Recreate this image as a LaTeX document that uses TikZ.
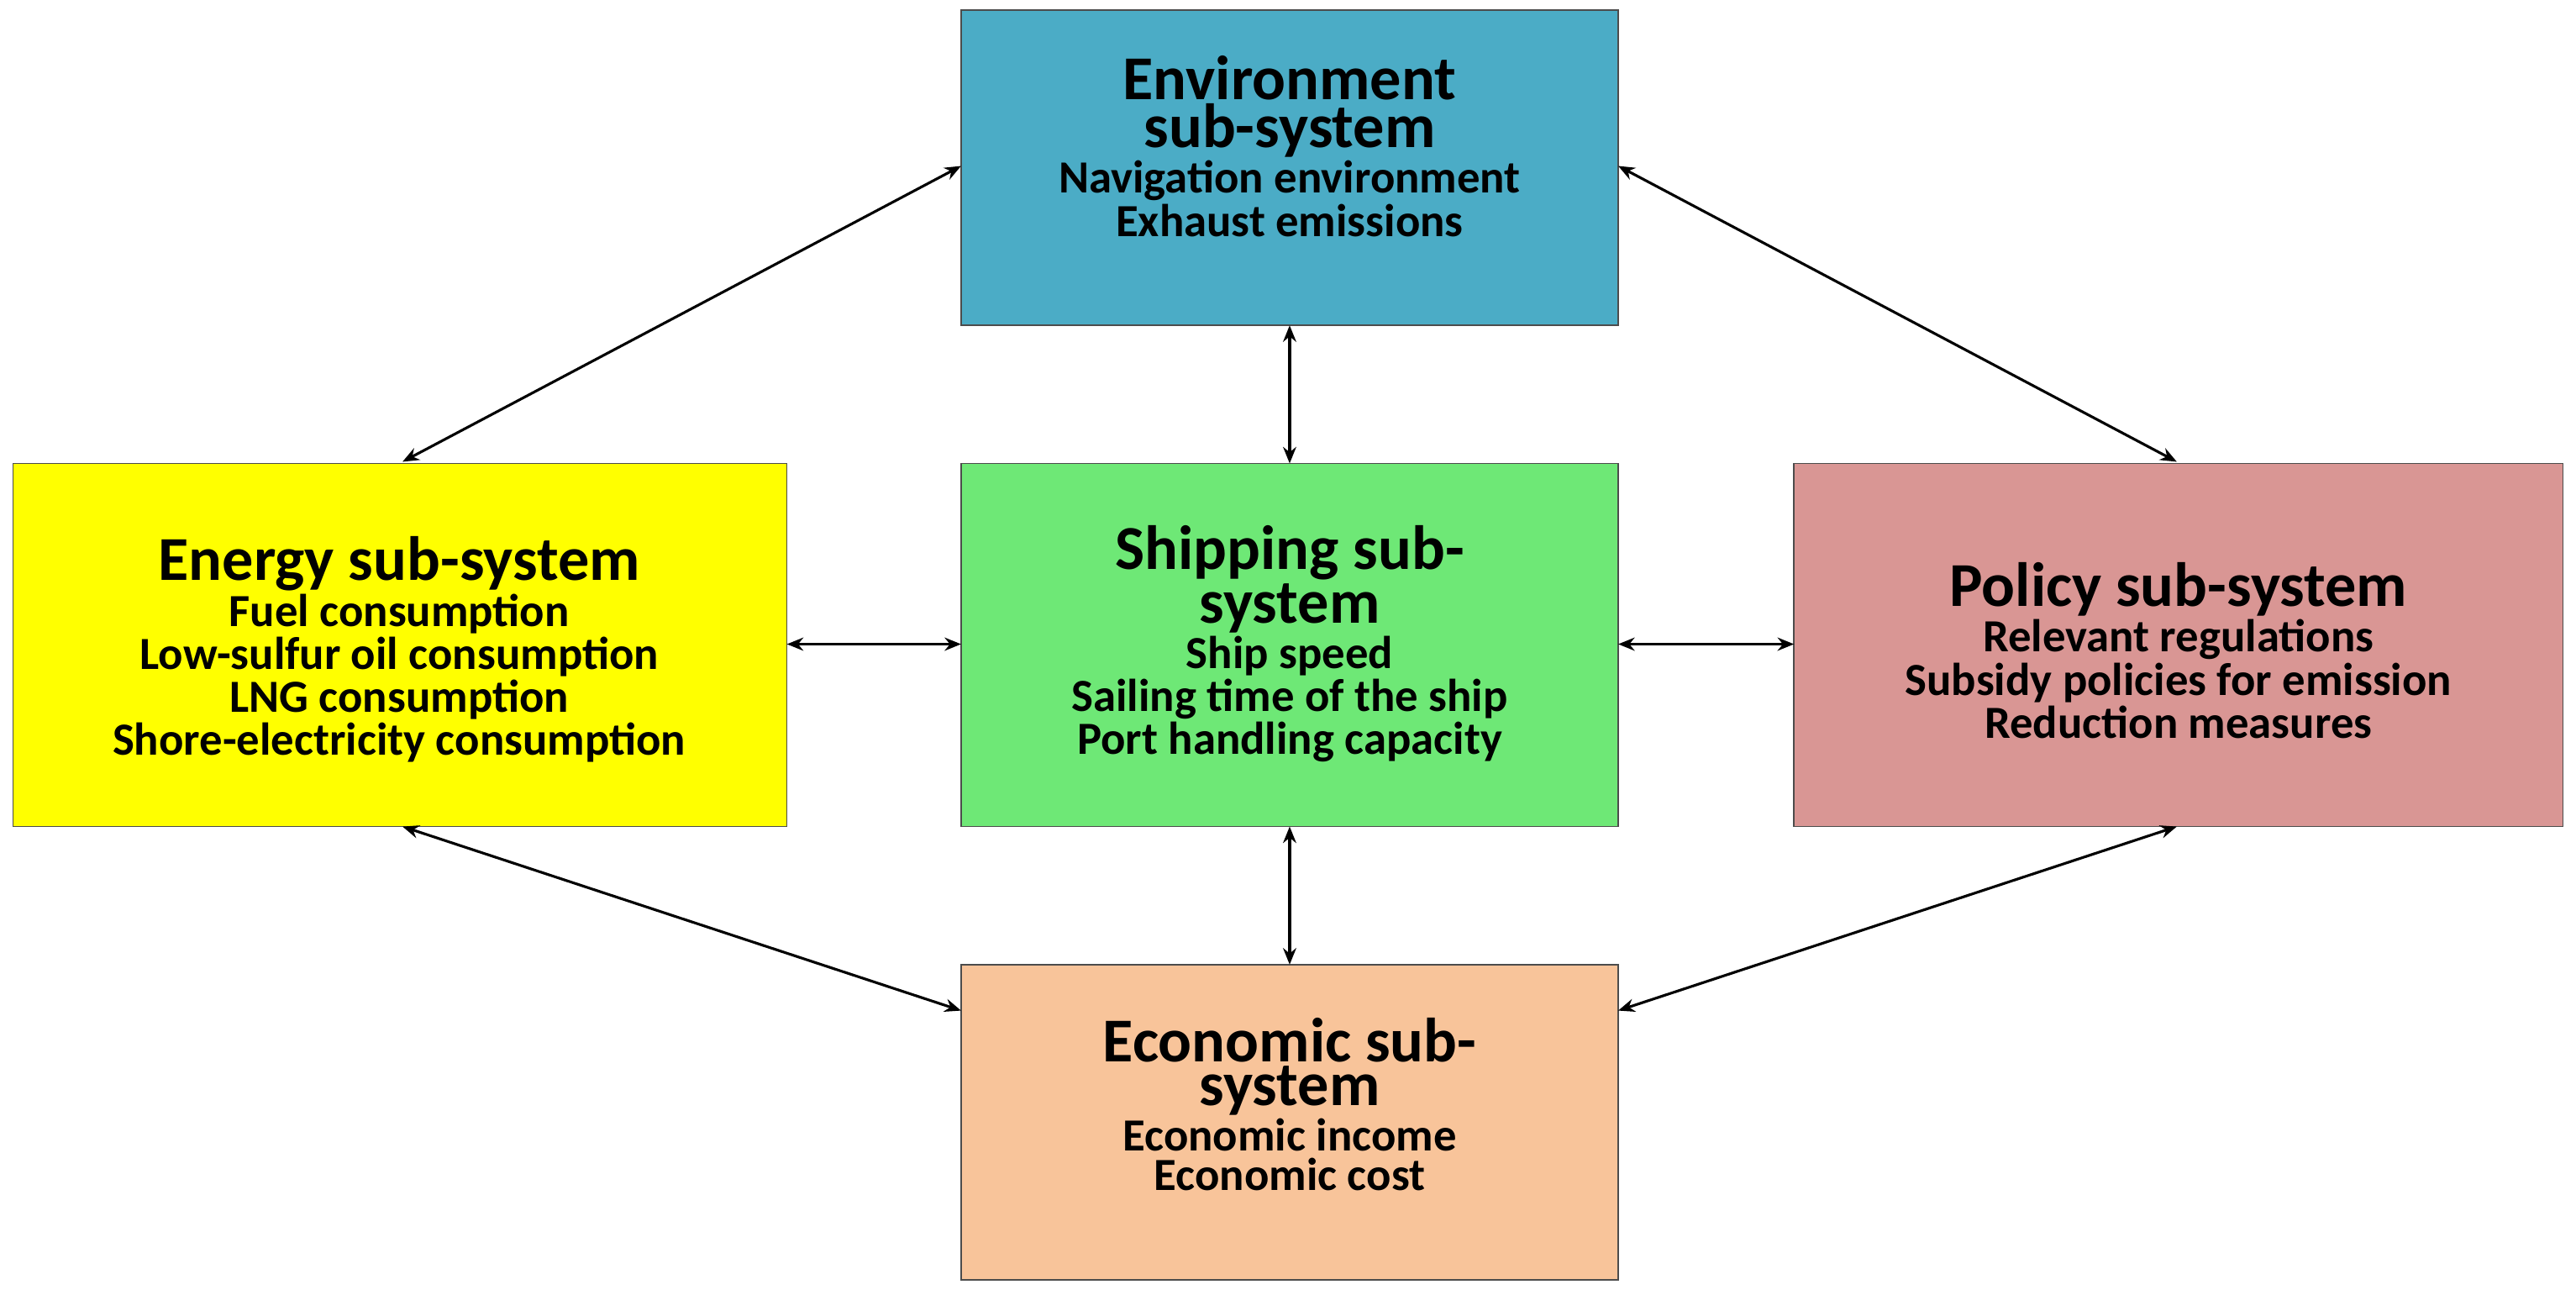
\documentclass[tikz,border=0pt]{standalone}
\usepackage{fontspec}
\setmainfont{Carlito}
\usetikzlibrary{arrows.meta}
\definecolor{envc}{HTML}{4BACC6}
\definecolor{enec}{HTML}{FFFF00}
\definecolor{shic}{HTML}{6EE876}
\definecolor{polc}{HTML}{D99694}
\definecolor{ecoc}{HTML}{F8C49A}
\newcommand{\myttl}{\bfseries\fontsize{19}{21.5}\selectfont}
\newcommand{\mybd}{\bfseries\fontsize{14}{17.5}\selectfont}
\tikzset{
  txt/.style={align=center,inner sep=0pt},
  link/.style={{Stealth[length=5pt,width=4pt]}-{Stealth[length=5pt,width=4pt]},line width=0.8pt}
}
\begin{document}
\begin{tikzpicture}[x=0.5pt,y=-0.5pt]
\useasboundingbox (0,0) rectangle (1568,788);
\draw[draw=black!70,fill=envc] (585,6) rectangle (985,198);
\draw[draw=black!70,fill=enec] (8,282) rectangle (479,503);
\draw[draw=black!70,fill=shic] (585,282) rectangle (985,503);
\draw[draw=black!70,fill=polc] (1092,282) rectangle (1560,503);
\draw[draw=black!70,fill=ecoc] (585,587) rectangle (985,779);
\coordinate (envL) at (585,101); \coordinate (envR) at (985,101);
\coordinate (envB) at (785,198); \coordinate (shiT) at (785,282);
\coordinate (eneT) at (245,281); \coordinate (polT) at (1325,281);
\coordinate (eneR) at (479,392); \coordinate (shiL) at (585,392);
\coordinate (shiR) at (985,392); \coordinate (polL) at (1092,392);
\coordinate (shiB) at (785,503); \coordinate (ecoT) at (785,587);
\coordinate (eneB) at (245,503); \coordinate (polB) at (1325,503);
\coordinate (ecoL) at (585,615); \coordinate (ecoR) at (985,615);
\node[txt] (tenv) at (785,89) {\myttl Environment\\ \myttl sub-system\\ \mybd Navigation environment\\ \mybd Exhaust emissions};
\node[txt] (tene) at (243,395) {\myttl Energy sub-system\\ \mybd Fuel consumption\\ \mybd Low-sulfur oil consumption\\ \mybd LNG consumption\\ \mybd Shore-electricity consumption};
\node[txt] (tshi) at (785,392) {\myttl Shipping sub-\\ \myttl system\\ \mybd Ship speed\\ \mybd Sailing time of the ship\\ \mybd Port handling capacity};
\node[txt] (tpol) at (1326,396) {\myttl Policy sub-system\\ \mybd Relevant regulations\\ \mybd Subsidy policies for emission\\ \mybd Reduction measures};
\node[txt] (teco) at (785,672) {\myttl Economic sub-\\ \myttl system\\ \mybd Economic income\\ \mybd Economic cost};
\draw[link] (envL) -- (eneT);
\draw[link] (envR) -- (polT);
\draw[link] (envB) -- (shiT);
\draw[link] (eneR) -- (shiL);
\draw[link] (shiR) -- (polL);
\draw[link] (shiB) -- (ecoT);
\draw[link] (eneB) -- (ecoL);
\draw[link] (polB) -- (ecoR);
\end{tikzpicture}
\end{document}
